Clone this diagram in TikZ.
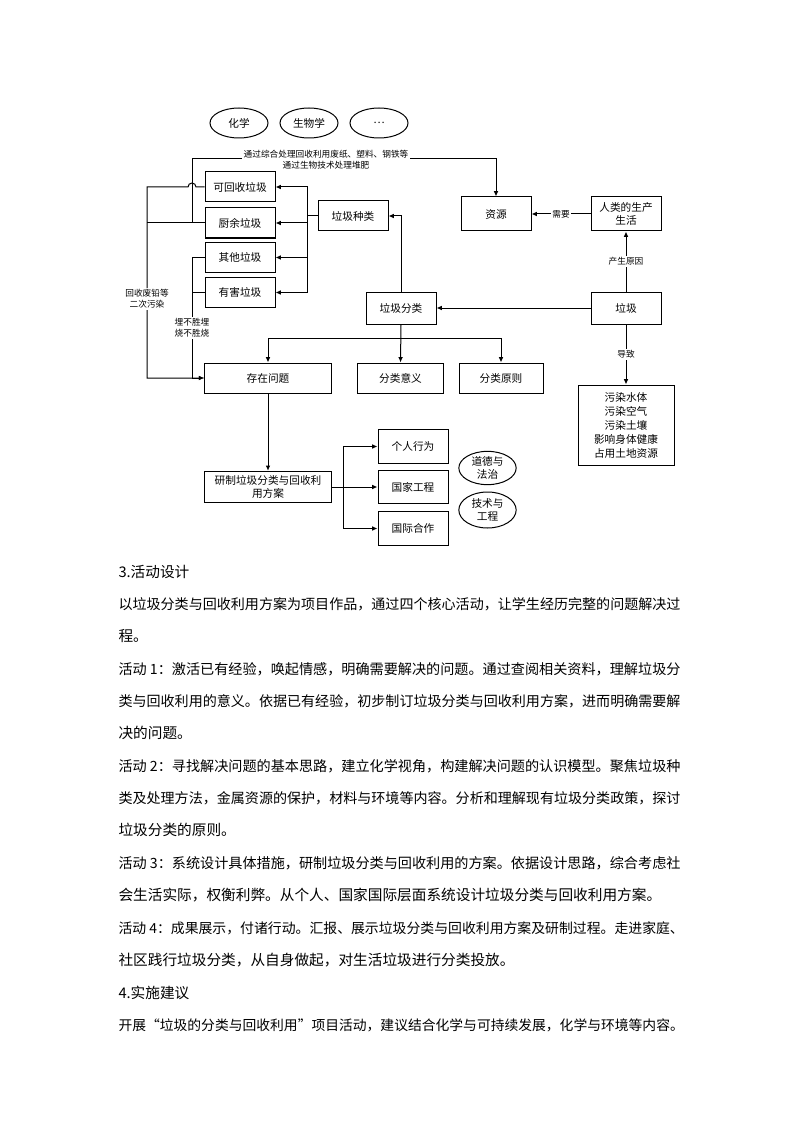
\documentclass[tikz,border=0pt]{standalone}
\usepackage{fontspec}
\usepackage{graphicx}
\setmainfont{Noto Sans CJK SC}
\usetikzlibrary{arrows.meta,shapes.geometric}

\tikzset{
  box/.style={draw, line width=0.75pt, minimum width=52.5pt, minimum height=22.5pt,
    inner sep=1pt, align=center, font=\fontsize{8}{10}\selectfont},
  oval/.style={ellipse, draw, line width=0.75pt, minimum width=43.5pt, minimum height=22.5pt,
    inner sep=0pt, align=center, font=\fontsize{8}{10}\selectfont},
  lbl/.style={fill=white, inner sep=1pt, align=center, font=\fontsize{6.5}{8}\selectfont},
  arr/.style={-{Latex[length=4pt,width=3.5pt]}},
  para/.style={anchor=west, inner sep=0pt, font=\fontsize{11}{13}\selectfont}
}
\newcommand{\jline}[1]{\resizebox{421.5pt}{!}{#1}}

\begin{document}
\begin{tikzpicture}[x=0.75pt, y=-0.75pt, line width=0.75pt]
  \useasboundingbox (0,0) rectangle (794,1123);

  % subjects
  \node[oval] (chem) at (239,123) {化学};
  \node[oval] (bio) at (309,123) {生物学};
  \node[oval] (more) at (379,123) {…};

  % main boxes
  \node[box, minimum height=25.5pt] (res) at (496,214) {资源};
  \node[box, minimum height=25.5pt] (life) at (626,214) {人类的生产\\生活};
  \node[box, minimum height=24pt] (waste) at (626,308) {垃圾};
  \node[box, minimum height=24pt] (sort) at (401,308) {垃圾分类};
  \node[box] (kind) at (353,216) {垃圾种类};
  \node[box] (recy) at (240,187) {可回收垃圾};
  \node[box] (food) at (240,223) {厨余垃圾};
  \node[box] (other) at (240,257.5) {其他垃圾};
  \node[box] (harm) at (240,292.5) {有害垃圾};
  \node[box, minimum width=95pt] (prob) at (268,378) {存在问题};
  \node[box, minimum width=64pt] (mean) at (400.5,378) {分类意义};
  \node[box, minimum width=63pt] (rule) at (501,378) {分类原则};
  \node[box, minimum width=72pt, minimum height=60pt, font=\fontsize{8}{10.5}\selectfont]
    (hurt) at (626,425) {污染水体\\污染空气\\污染土壤\\影响身体健康\\占用土地资源};
  \node[box, minimum width=95pt, minimum height=23.5pt] (plan) at (268,487) {研制垃圾分类与回收利\\用方案};
  \node[box, minimum height=25pt] (pers) at (413,446.5) {个人行为};
  \node[box, minimum height=25pt] (nat) at (413,487) {国家工程};
  \node[box, minimum height=25pt] (intl) at (413,528.5) {国际合作};
  \node[oval, minimum width=43pt, minimum height=25pt] (moral) at (487.5,468) {道德与\\法治};
  \node[oval, minimum width=43pt, minimum height=27pt] (tech) at (487.5,510) {技术与\\工程};

  % guide coordinates
  \coordinate (lx) at (147,0);
  \coordinate (mx) at (192,0);
  \coordinate (rx) at (307,0);
  \coordinate (fx) at (343,0);
  \coordinate (topy) at (0,159);
  \coordinate (sy) at (0,338);

  % left side
  \draw[arr] (recy.west) -- ([xshift=3pt]mx |- recy.west) arc[start angle=0, end angle=180, radius=3pt]
    -- (lx |- recy.west) |- (prob.west);
  \draw (food.west) -- (lx |- food.west);
  \draw[arr] (mx |- food.west) |- (res.north |- topy) -- (res.north);
  \draw[arr] (other.west) -- (mx |- other.west) |- (prob.west);
  \draw (harm.west) -- (mx |- harm.west);
  \node[lbl] (toplbl) at (326,160) {通过综合处理回收利用废纸、塑料、钢铁等\\通过生物技术处理堆肥};
  \node[lbl] (lblA) at (147,299) {回收废铅等\\二次污染};
  \node[lbl] (lblB) at (192,328) {埋不胜埋\\烧不胜烧};

  % kinds
  \draw (kind.west) -- (rx |- kind.west);
  \draw[arr] (rx |- harm.east) -- (rx |- recy.east) -- (recy.east);
  \foreach \b in {food,other,harm}
    \draw[arr] (rx |- \b.east) -- (\b.east);
  \draw[arr] (sort.north) |- (kind.east);

  % right side
  \draw[arr] (waste.west) -- (sort.east);
  \draw[arr] (waste.north) -- node[lbl] {产生原因} (life.south);
  \draw[arr] (life.west) -- node[lbl] {需要} (res.east);
  \draw[arr] (waste.south) -- node[lbl] {导致} (hurt.north);

  % sorting
  \draw[arr] (sort.south) -- (mean.north);
  \draw[arr] (sort.south |- sy) -| (prob.north);
  \draw[arr] (sort.south |- sy) -| (rule.north);
  \draw[arr] (prob.south) -- (plan.north);

  % plan
  \draw[arr] (plan.east) -- (nat.west);
  \draw[arr] (fx |- plan.east) |- (pers.west);
  \draw[arr] (fx |- plan.east) |- (intl.west);

  % text
  \node[para] (t1) at (118,572) {3.活动设计};
  \node[para] (t2) at (118,604) {\jline{以垃圾分类与回收利用方案为项目作品，通过四个核心活动，让学生经历完整的问题解决过}};
  \node[para] (t3) at (118,636) {程。};
  \node[para] (t4) at (118,669) {\jline{活动 1：激活已有经验，唤起情感，明确需要解决的问题。通过查阅相关资料，理解垃圾分}};
  \node[para] (t5) at (118,701) {\jline{类与回收利用的意义。依据已有经验，初步制订垃圾分类与回收利用方案，进而明确需要解}};
  \node[para] (t6) at (118,733) {决的问题。};
  \node[para] (t7) at (118,766) {\jline{活动 2：寻找解决问题的基本思路，建立化学视角，构建解决问题的认识模型。聚焦垃圾种}};
  \node[para] (t8) at (118,798) {\jline{类及处理方法，金属资源的保护，材料与环境等内容。分析和理解现有垃圾分类政策，探讨}};
  \node[para] (t9) at (118,830) {垃圾分类的原则。};
  \node[para] (t10) at (118,863) {\jline{活动 3：系统设计具体措施，研制垃圾分类与回收利用的方案。依据设计思路，综合考虑社}};
  \node[para] (t11) at (118,895) {会生活实际，权衡利弊。从个人、国家国际层面系统设计垃圾分类与回收利用方案。};
  \node[para] (t12) at (118,928) {\resizebox{424pt}{!}{活动 4：成果展示，付诸行动。汇报、展示垃圾分类与回收利用方案及研制过程。走进家庭、}};
  \node[para] (t13) at (118,960) {社区践行垃圾分类，从自身做起，对生活垃圾进行分类投放。};
  \node[para] (t14) at (118,993) {4.实施建议};
  \node[para] (t15) at (118,1025) {\resizebox{424pt}{!}{开展“垃圾的分类与回收利用”项目活动，建议结合化学与可持续发展，化学与环境等内容。}};
\end{tikzpicture}
\end{document}
